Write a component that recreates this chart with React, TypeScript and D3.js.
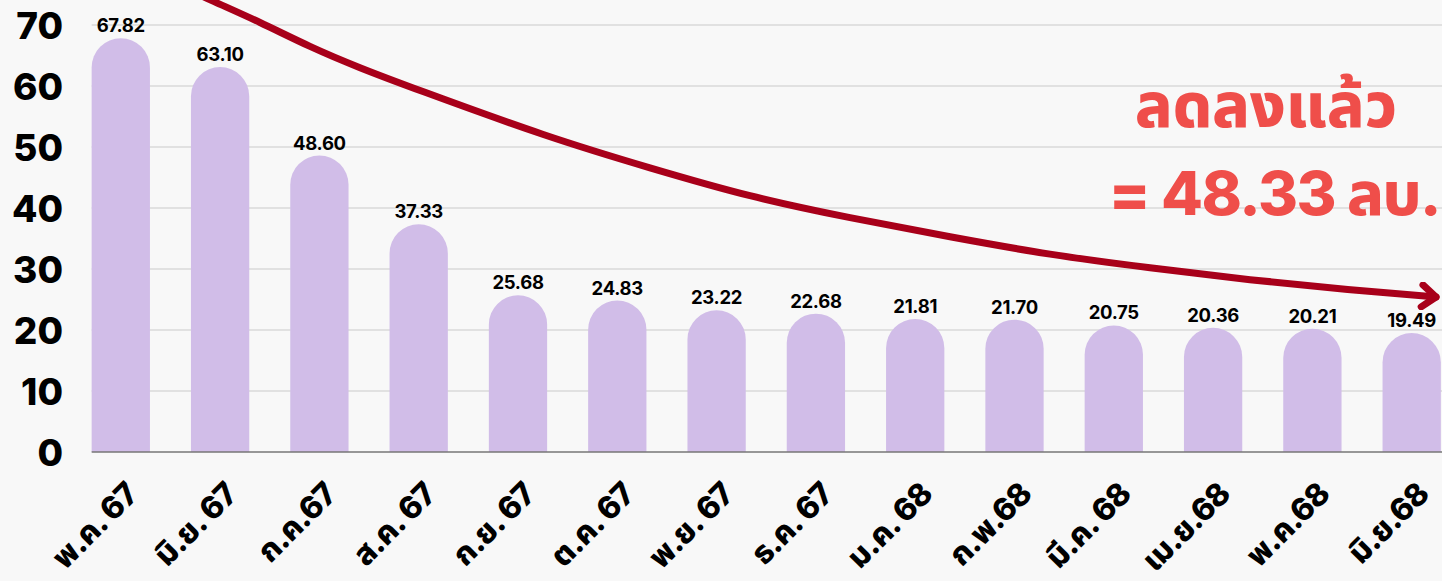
import React from "react";
import * as d3 from "d3";

const categories = ["พ.ค. 67", "มิ.ย. 67", "ก.ค.67", "ส.ค. 67", "ก.ย. 67", "ต.ค. 67", "พ.ย. 67", "ธ.ค. 67", "ม.ค. 68", "ก.พ.68", "มี.ค. 68", "เม.ย.68", "พ.ค.68", "มิ.ย.68"];
const values = [67.82, 63.1, 48.6, 37.33, 25.68, 24.83, 23.22, 22.68, 21.81, 21.7, 20.75, 20.36, 20.21, 19.49];
const yTicks = [0, 10, 20, 30, 40, 50, 60, 70];
// trend arrow, in data units: [category index, value]
const trendPoints: [number, number][] = [
  [0.646, 76.07], [0.898, 74.1], [1.402, 70.49], [1.905, 66.39], [2.409, 62.95], [2.913, 59.84],
  [4.322, 51.48], [5.329, 46.56], [6.336, 41.8], [7.344, 38.36], [8.351, 35.25],
  [9.358, 32.3], [10.365, 30.16], [11.372, 28.2], [12.379, 26.56], [13.245, 25.41],
];
const noteLine1 = "ลดลงแล้ว";
const noteLine2 = "= 48.33 ลบ.";

const W = 1442;
const H = 581;
const FONT = "Inter, 'Noto Sans', 'Noto Sans Thai', 'Noto Sans Thai Looped', Loma, sans-serif";

export default function App() {
  const step = 99.3;
  const x = d3
    .scaleBand<string>()
    .domain(categories)
    .range([120.8 - step / 2, 120.8 - step / 2 + step * categories.length])
    .paddingInner(0.413)
    .paddingOuter(0.2065);
  const xi = d3
    .scaleLinear()
    .domain([0, categories.length - 1])
    .range([x(categories[0])! + x.bandwidth() / 2, x(categories[categories.length - 1])! + x.bandwidth() / 2]);
  const y = d3.scaleLinear().domain([0, 70]).range([452, 25]);
  const bw = x.bandwidth();
  const r = bw / 2;
  const gridX0 = x(categories[0])!;

  const line = d3
    .line<[number, number]>()
    .x((d) => xi(d[0]))
    .y((d) => y(d[1]))
    .curve(d3.curveBasis);

  return (
    <svg width={W} height={H} style={{ position: "absolute", left: 0, top: 0, background: "#f8f8f8" }} fontFamily={FONT}>
      <defs>
        <marker id="arr" viewBox="-20 -14 24 28" markerWidth={24} markerHeight={28} refX={0} refY={0} orient="auto" markerUnits="userSpaceOnUse">
          <path d="M -14 -11 L 0 0 L -14 11" fill="none" stroke="#a8001a" strokeWidth={7} strokeLinecap="round" strokeLinejoin="round" />
        </marker>
      </defs>
      <rect x={0} y={0} width={W} height={H} fill="#f8f8f8" />
      {yTicks.slice(1).map((t) => (
        <line key={t} x1={gridX0} x2={W} y1={y(t)} y2={y(t)} stroke="#c9c9c9" strokeWidth={1.2} />
      ))}
      {yTicks.map((t) => (
        <text key={t} x={63} y={y(t) + 3.5} textAnchor="end" dominantBaseline="middle" fontSize={37} fontWeight={800} fill="#000">
          {t}
        </text>
      ))}
      {values.map((v, i) => {
        const x0 = x(categories[i])!;
        const yt = y(v);
        const y0 = y(0);
        const d = `M${x0},${y0} L${x0},${yt + r} A${r},${r} 0 0 1 ${x0 + bw},${yt + r} L${x0 + bw},${y0} Z`;
        return <path key={i} d={d} fill="#d1bde8" />;
      })}
      <line x1={gridX0} x2={W} y1={y(0)} y2={y(0)} stroke="#777" strokeWidth={1.5} />
      {values.map((v, i) => (
        <text key={i} x={x(categories[i])! + bw / 2} y={y(v) - 6} textAnchor="middle" fontSize={18.5} fontWeight={700} fill="#000" letterSpacing={-0.3}>
          {v.toFixed(2)}
        </text>
      ))}
      {categories.map((c, i) => {
        const cx = x(c)! + bw / 2 + 19;
        const cy = 496;
        return (
          <text key={c} x={cx} y={cy} transform={`rotate(-45 ${cx} ${cy})`} textAnchor="end" fontSize={31.5} fontWeight={800} fill="#000" letterSpacing={-0.8}>
            {c}
          </text>
        );
      })}
      <path d={line(trendPoints)!} fill="none" stroke="#a8001a" strokeWidth={7} strokeLinecap="round" markerEnd="url(#arr)" />
      <text x={1266} y={127} textAnchor="middle" fontSize={62} fontWeight={800} fill="#ef4e4a">
        {noteLine1}
      </text>
      <text x={1440} y={215} textAnchor="end" fontSize={61} fontWeight={800} fill="#ef4e4a" letterSpacing={-1.5}>
        {noteLine2}
      </text>
    </svg>
  );
}
